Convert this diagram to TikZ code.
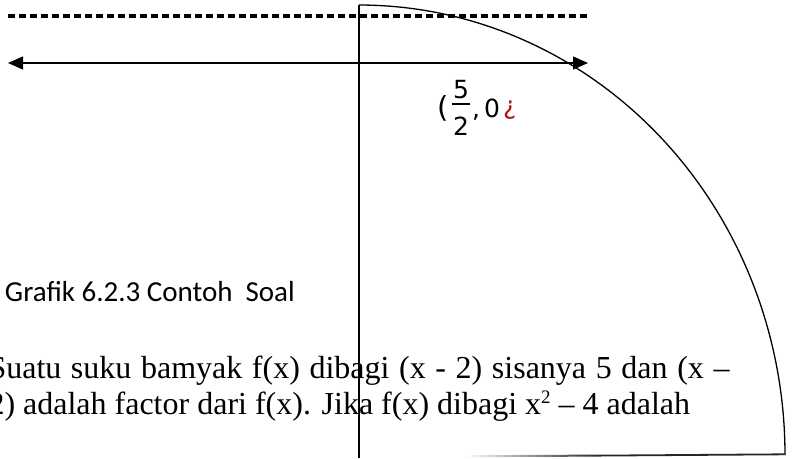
\documentclass[tikz,border=0pt]{standalone}
\usepackage{fontspec}
\setmainfont{Liberation Serif}
\newfontfamily\carlitofont{Carlito}
\newfontfamily\dejavufont{DejaVu Sans}
\usetikzlibrary{arrows.meta}
\definecolor{errred}{RGB}{165,25,25}
\tikzset{
  txt/.style={anchor=base west, inner sep=0pt, outer sep=0pt},
  mathtxt/.style={inner sep=0pt, outer sep=0pt, font=\dejavufont\fontsize{25}{30}\selectfont},
  bodytxt/.style={txt, font=\fontsize{32}{36}\selectfont},
  thinline/.style={line width=1.2pt, black},
  arrowtip/.tip={Triangle[length=15pt,width=13pt]}
}
\newcommand{\supsmall}[1]{\raisebox{11pt}{\fontsize{19}{19}\selectfont #1}}
\begin{document}
\begin{tikzpicture}[x=1pt,y=-1pt]
\useasboundingbox (0,0) rectangle (792,458);
\clip (0,0) rectangle (792,458);

% dashed top line
\coordinate (dL) at (8,16);
\coordinate (dR) at (587,16);
\draw[line width=3.2pt, dash pattern=on 6.5pt off 4.5pt] (dL) -- (dR);

% quarter shape
\coordinate (top) at (359,5);
\coordinate (vbot) at (359,458);
\draw[thinline] (top) -- (vbot);
\draw[line width=1.3pt] plot[domain=90:0, samples=90, smooth] ({359+426*cos(\x)},{455-450*sin(\x)});
\shade[left color=white, right color=black!85] (465,455.2) -- (600,454.6) -- (600,456.6) -- (465,457.2) -- cycle;
\coordinate (bl) at (600,455.6);
\coordinate (br) at (785,454.3);
\draw[line width=1.8pt, black!85] (bl) -- (br);

% double arrow
\coordinate (aL) at (8,63);
\coordinate (aR) at (588,63);
\draw[line width=1.3pt, arrowtip-arrowtip] (aL) -- (aR);

% fraction label
\node[mathtxt, anchor=base west, font=\dejavufont\fontsize{29}{30}\selectfont] (lp) at (437.5,117.5) {(};
\node[mathtxt, anchor=base] (num) at (461,98.5) {5};
\node[mathtxt, anchor=base] (den) at (461,135) {2};
\draw[line width=1.3pt] (452,104) -- (470,104);
\node[mathtxt, anchor=base west] (cm) at (472,117) {,};
\node[mathtxt, anchor=base west] (zero) at (484,117) {0};
\node[mathtxt, anchor=base west, text=errred] (inv) at (503,114) {¿};

% caption
\node[txt, font=\carlitofont\fontsize{29}{34}\selectfont] (cap) at (5,301.5) {Grafik 6.2.3 Contoh\ \ Soal};

% body text
\node[bodytxt] (l1) at (-11.5,378) {\makebox[741pt][s]{Suatu suku bamyak f(x) dibagi (x - 2) sisanya 5 dan (x –}};
\node[bodytxt] (l2) at (-11.5,414.5) {2) adalah factor dari f(x). Jika f(x) dibagi x\supsmall{2} – 4 adalah};
\end{tikzpicture}
\end{document}
